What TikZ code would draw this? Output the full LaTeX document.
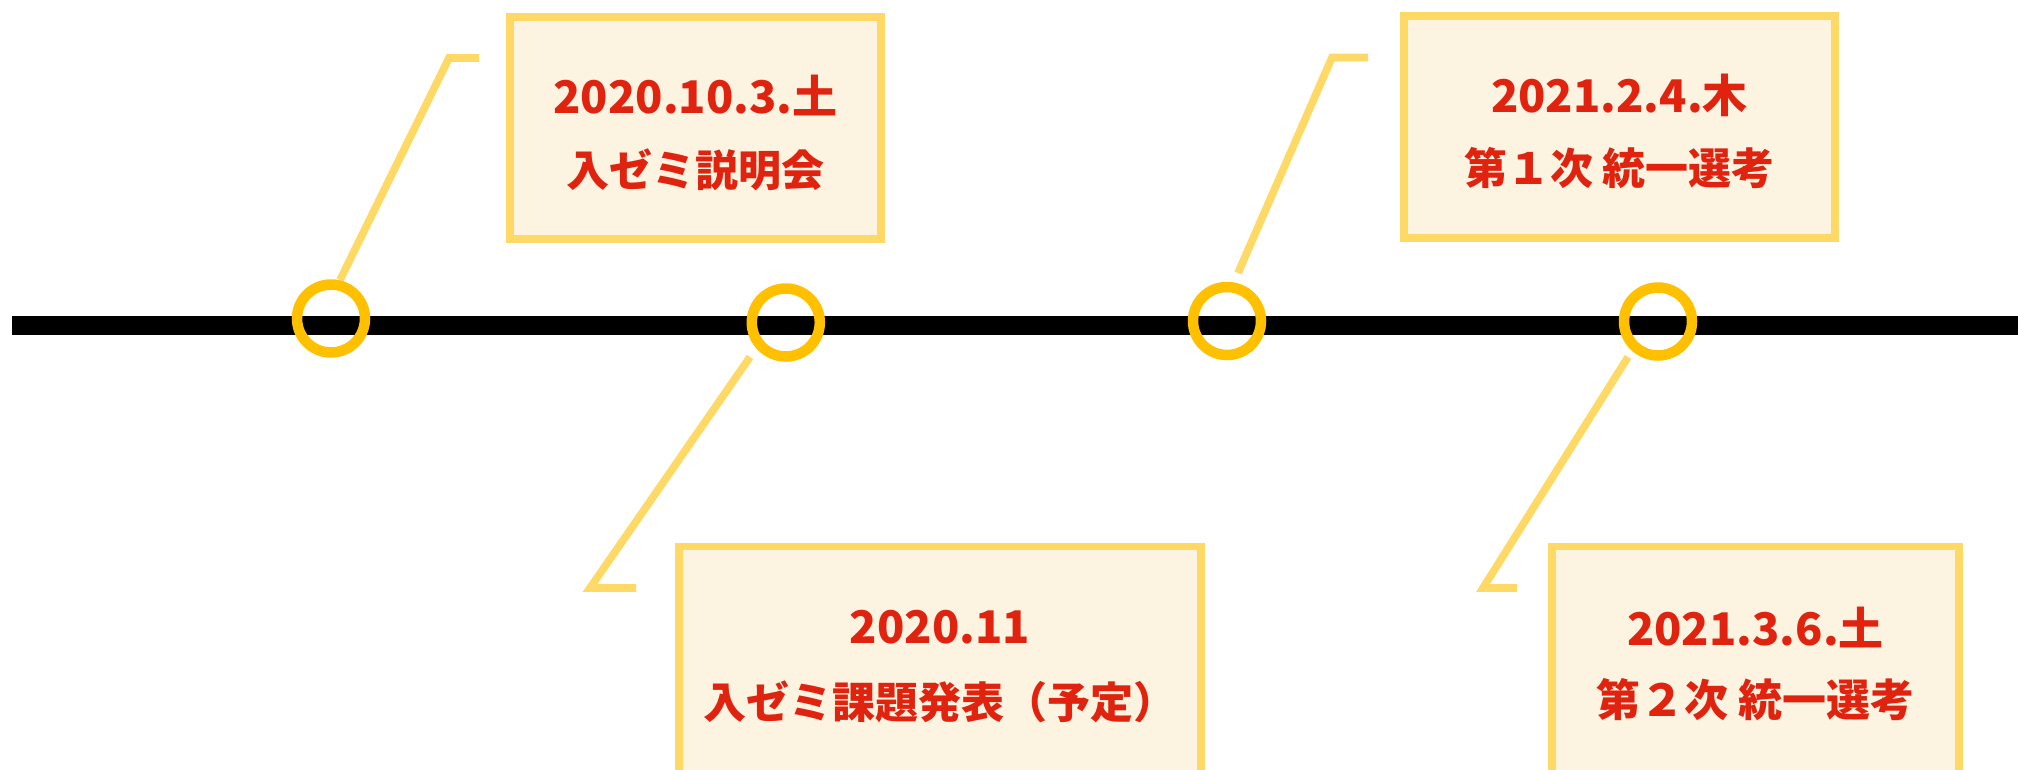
\documentclass[tikz,border=0pt]{standalone}
\usepackage{fontspec}
\newfontfamily\jp{Noto Sans CJK JP}
\definecolor{ringc}{HTML}{FFC000}
\definecolor{leadc}{HTML}{FFD966}
\definecolor{paperc}{HTML}{FCF3E0}
\definecolor{txtc}{HTML}{E0230F}
\tikzset{
  evbox/.style={rectangle, draw=leadc, line width=7.5pt, fill=paperc, inner sep=0pt},
  evring/.style={circle, draw=ringc, line width=10.5pt, minimum size=68pt, inner sep=0pt},
  leader/.style={draw=leadc, line width=7.7pt, line join=miter},
  evtxt/.style={text=txtc, font=\jp\bfseries\fontsize{43}{50}\selectfont, inner sep=0pt, anchor=center},
  evdate/.style={evtxt, font=\jp\bfseries\fontsize{45}{50}\selectfont},
  axis/.style={draw=black, line width=19.3pt},
}
\begin{document}
\begin{tikzpicture}[x=1pt,y=-1pt]
\useasboundingbox (0,0) rectangle (2018,769);
\clip (0,0) rectangle (2018,769);
% boxes
\node[evbox, minimum width=371pt, minimum height=222pt] (b1) at (695.5,128) {};
\node[evbox, minimum width=431pt, minimum height=222pt] (b3) at (1619.5,127) {};
\node[evbox, minimum width=522pt, minimum height=273.5pt] (b2) at (940,683.25) {};
\node[evbox, minimum width=407pt, minimum height=273.5pt] (b4) at (1755.5,683.25) {};
% texts
\node[evdate] (t1a) at (695.5,95) {2020.10.3.土};
\node[evtxt] (t1b) at (695.5,170) {入ゼミ説明会};
\node[evdate] (t3a) at (1619.5,95) {2021.2.4.木};
\node[evtxt] (t3b) at (1619.5,168) {第１次 統一選考};
\node[evdate] (t2a) at (940,627) {2020.11};
\node[evtxt] (t2b) at (940,702) {入ゼミ課題発表（予定）};
\node[evdate] (t4a) at (1755.5,627) {2021.3.6.土};
\node[evtxt, font=\jp\bfseries\fontsize{44}{50}\selectfont] (t4b) at (1755.5,700) {第２次 統一選考};
% axis
\coordinate (ax0) at (11.7,325.3);
\coordinate (ax1) at (2030,325.3);
\draw[axis] (ax0) -- (ax1);
% leader coordinates
\coordinate (s1) at (340,280);
\coordinate (k1) at (449,58);
\coordinate (e1) at (479,58);
\coordinate (s2) at (750,357);
\coordinate (k2) at (590,588);
\coordinate (e2) at (636,588);
\coordinate (s3) at (1238,273);
\coordinate (k3) at (1332,57.5);
\coordinate (e3) at (1368,57.5);
\coordinate (s4) at (1628,357);
\coordinate (k4) at (1483,588);
\coordinate (e4) at (1517,588);
\draw[leader] (s1) -- (k1) -- (e1);
\draw[leader] (s2) -- (k2) -- (e2);
\draw[leader] (s3) -- (k3) -- (e3);
\draw[leader] (s4) -- (k4) -- (e4);
% rings
\node[evring] (c1) at (331,318.5) {};
\node[evring] (c2) at (785.8,322.5) {};
\node[evring] (c3) at (1227,321) {};
\node[evring] (c4) at (1658,321.5) {};
\end{tikzpicture}
\end{document}
